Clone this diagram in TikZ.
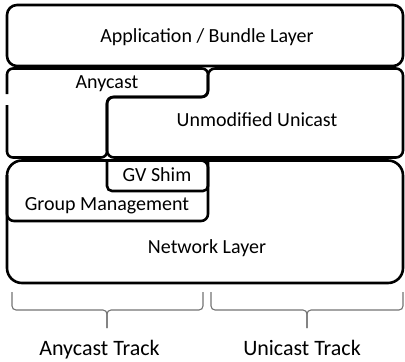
\documentclass[tikz,border=0pt]{standalone}
\usepackage{fontspec}
\setmainfont{Carlito}
\begin{document}
\begin{tikzpicture}[x=1pt,y=-1pt,
  box/.style={draw=black,line width=2.6pt,line join=round},
  lbl/.style={anchor=base,inner sep=0pt,font=\fontsize{20}{24}\selectfont},
  tracklbl/.style={anchor=base,inner sep=0pt,font=\fontsize{22}{26}\selectfont},
  bracepath/.style={draw=black!55,line width=1.1pt,rounded corners=4pt}]
\useasboundingbox (0,0) rectangle (405,362);
% Application layer
\draw[box,rounded corners=10pt] (7,5) rectangle (403,66);
% Unmodified unicast (L-shaped)
\draw[box,rounded corners=7pt] (208,97) -- (208,68.5) -- (403,68.5) -- (403,157.5) -- (107,157.5) -- (107,97) -- cycle;
% Anycast (L-shaped, open on the left)
\draw[box,rounded corners=6pt] (7,94) -- (7,68.5) -- (208,68.5) -- (208,97) -- (107,97) -- (107,157.5) -- (7,157.5) -- (7,105);
% Network layer
\draw[box,rounded corners=15pt] (7,160.5) rectangle (403,283);
% Group management
\draw[box,rounded corners=7pt] (7,175) -- (7,221) -- (208,221) -- (208,160.5) -- (25,160.5);
% GV shim
\draw[box,rounded corners=5pt] (107,160.5) -- (107,191) -- (208,191) -- (208,160.5);
% labels
\node[lbl] (app) at (207,42.5) {Application / Bundle Layer};
\node[lbl] (any) at (107,88.3) {Anycast};
\node[lbl] (uni) at (257,126.5) {Unmodified Unicast};
\node[lbl] (gv) at (157,181.5) {GV Shim};
\node[lbl] (gm) at (107,210) {Group Management};
\node[lbl] (net) at (207,253.3) {Network Layer};
% braces
\draw[bracepath] (12,292) -- (12,310) -- (107,310) -- (107,328);
\draw[bracepath] (203,292) -- (203,310) -- (107,310) -- (107,328);
\draw[bracepath] (211,292) -- (211,310) -- (307,310) -- (307,328);
\draw[bracepath] (403,292) -- (403,310) -- (307,310) -- (307,328);
\node[tracklbl] (at) at (99.5,355) {Anycast Track};
\node[tracklbl] (ut) at (302,355) {Unicast Track};
\end{tikzpicture}
\end{document}
